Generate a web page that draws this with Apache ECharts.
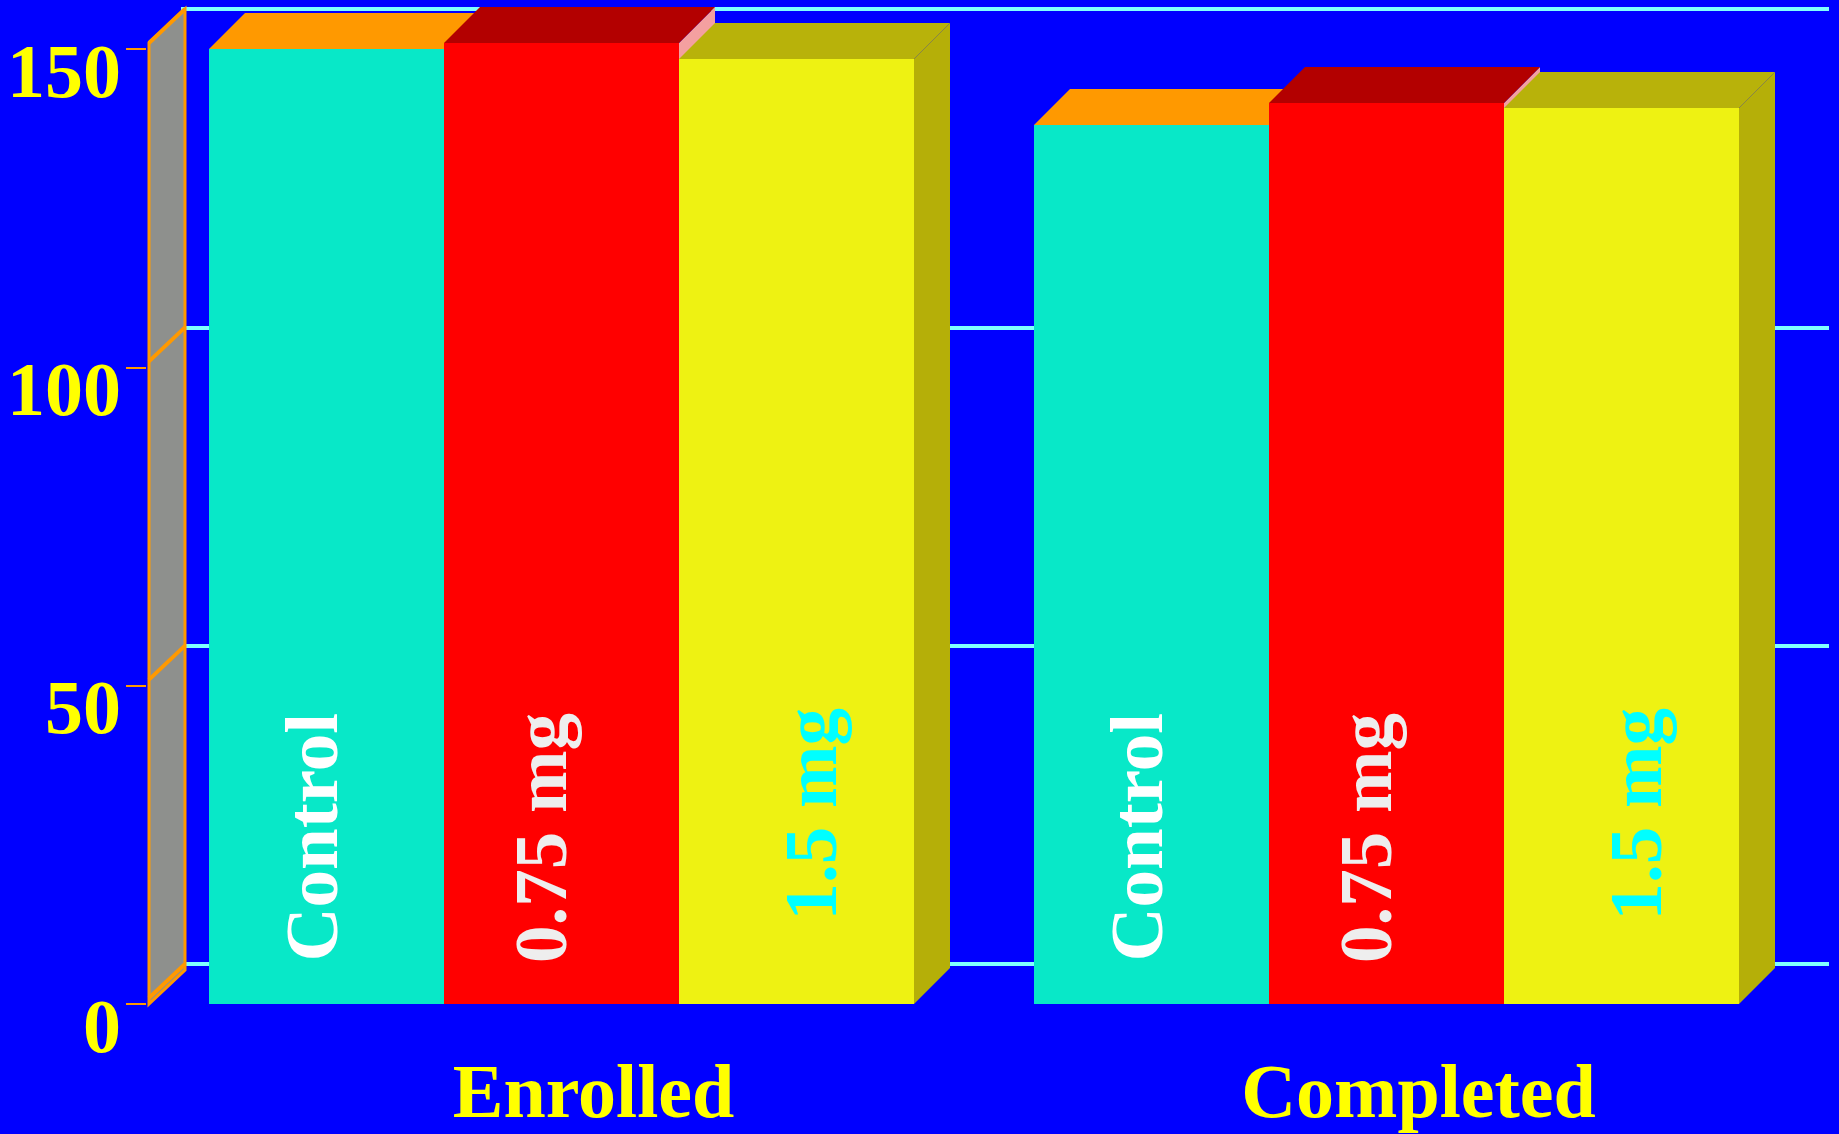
<!DOCTYPE html>
<html>
<head>
<meta charset="utf-8">
<script src="https://cdn.jsdelivr.net/npm/echarts@6/dist/echarts.min.js"></script>
<style>
html, body { margin: 0; padding: 0; background: #0000ff; }
#chart { width: 1839px; height: 1134px; }
</style>
</head>
<body>
<div id="chart"></div>
<script>
// Patients per study arm
const categories = ['Enrolled', 'Completed'];
const seriesNames = ['Control', '0.75 mg', '1.5 mg'];
const controlValues = [150, 138];
const lowDoseValues = [151, 141.5];
const highDoseValues = [148.5, 140.8];
const yTicks = [0, 50, 100, 150];

const FONT = '"Times New Roman", "Liberation Serif", serif';
const DX = 36, DY = -36;            // bar depth (pseudo 3D)
const WALL_DX = 36, WALL_DY = -40;  // side wall / back wall depth
const GROUP_FILL = 705 / 825;       // share of each category band used by the bar group

const barStyles = [
  { front: '#08e8c8', top: '#ff9900', side: '#06b09a', text: '#ffffff', shift: -9,  endGap: 291 },
  { front: '#ff0000', top: '#b30000', side: '#f4a0a0', text: '#eeeeee', shift: -15, endGap: 291 },
  { front: '#eef212', top: '#b8b20a', side: '#b5af08', text: '#00ffff', shift: 20,  endGap: 296 }
];

function makeBarRenderer(idx) {
  const st = barStyles[idx];
  return function (params, api) {
    const cat = api.value(0);
    const val = api.value(1);
    const base = api.coord([cat, 0]);
    const top = api.coord([cat, val]);
    const band = api.size([1, 0])[0];
    const groupW = band * GROUP_FILL;
    const barW = groupW / 3;
    const x0 = Math.round(base[0] - groupW / 2 + idx * barW);
    const x1 = Math.round(base[0] - groupW / 2 + (idx + 1) * barW);
    const yB = Math.round(base[1]);
    const yT = Math.round(top[1]);
    return {
      type: 'group',
      children: [
        { type: 'polygon', shape: { points: [[x1, yT], [x1, yB], [x1 + DX, yB + DY], [x1 + DX, yT + DY]] },
          style: { fill: st.side } },
        { type: 'polygon', shape: { points: [[x0, yT], [x1, yT], [x1 + DX, yT + DY], [x0 + DX, yT + DY]] },
          style: { fill: st.top } },
        { type: 'rect', shape: { x: x0, y: yT, width: x1 - x0, height: yB - yT },
          style: { fill: st.front } },
        { type: 'text', x: (x0 + x1) / 2 + st.shift, y: yB - st.endGap, rotation: Math.PI / 2,
          style: { text: seriesNames[idx], fill: st.text, font: 'bold 75px ' + FONT,
                   align: 'right', verticalAlign: 'middle' } }
      ]
    };
  };
}

// Left side wall with its tick diagonals
function renderWall(params, api) {
  const fx = params.coordSys.x;
  const bx = fx + WALL_DX;
  const yf = v => api.coord([0, v])[1];
  const yMax = yTicks[yTicks.length - 1];
  const children = [{
    type: 'polygon',
    shape: { points: [[fx, yf(0)], [fx, yf(yMax) - 6], [bx, yf(yMax) + WALL_DY], [bx, yf(0) + WALL_DY + 6]] },
    style: { fill: '#8e908d', stroke: '#ff9900', lineWidth: 3 }
  }];
  yTicks.forEach(v => {
    children.push({
      type: 'line',
      shape: { x1: fx, y1: yf(v) - 6, x2: bx, y2: yf(v) + WALL_DY },
      style: { stroke: '#ff9900', lineWidth: 4 }
    });
  });
  return { type: 'group', children };
}

const toPairs = arr => arr.map((v, i) => [i, v]);
const chart = echarts.init(document.getElementById('chart'));

chart.setOption({
  backgroundColor: '#0000ff',
  animation: false,
  grid: [
    { left: 149, right: 40, top: 49, bottom: 130, outerBoundsMode: 'none' },   // front plane
    { left: 181, right: 10, top: 9, bottom: 170, outerBoundsMode: 'none' }     // back wall
  ],
  xAxis: [
    {
      gridIndex: 0, type: 'category', data: categories,
      axisLine: { show: false }, axisTick: { show: false }, splitLine: { show: false },
      axisLabel: {
        interval: 0, color: '#ffff00', fontSize: 76, fontWeight: 'bold', fontFamily: FONT,
        margin: 58, lineHeight: 70, padding: [0, 0, 0, 64]
      }
    },
    { gridIndex: 1, type: 'value', min: 0, max: 1, show: false }
  ],
  yAxis: [
    {
      gridIndex: 0, type: 'value', min: yTicks[0], max: yTicks[yTicks.length - 1], interval: 50, offset: 3,
      axisLine: { show: false },
      axisTick: { show: true, length: 20, lineStyle: { color: '#ff9900', width: 2 } },
      splitLine: { show: false },
      axisLabel: {
        color: '#ffff00', fontSize: 76, fontWeight: 'bold', fontFamily: FONT,
        margin: 25, verticalAlign: 'top', lineHeight: 56
      }
    },
    {
      gridIndex: 1, type: 'value', min: yTicks[0], max: yTicks[yTicks.length - 1], interval: 50,
      axisLine: { show: false }, axisTick: { show: false }, axisLabel: { show: false },
      splitLine: { show: true, lineStyle: { color: '#80ffff', width: 4 } }
    }
  ],
  series: [
    { type: 'custom', name: 'wall', xAxisIndex: 0, yAxisIndex: 0, data: [[0, 0]], renderItem: renderWall, silent: true },
    { type: 'custom', name: seriesNames[0], data: toPairs(controlValues), renderItem: makeBarRenderer(0) },
    { type: 'custom', name: seriesNames[1], data: toPairs(lowDoseValues), renderItem: makeBarRenderer(1) },
    { type: 'custom', name: seriesNames[2], data: toPairs(highDoseValues), renderItem: makeBarRenderer(2) }
  ]
});
</script>
</body>
</html>
